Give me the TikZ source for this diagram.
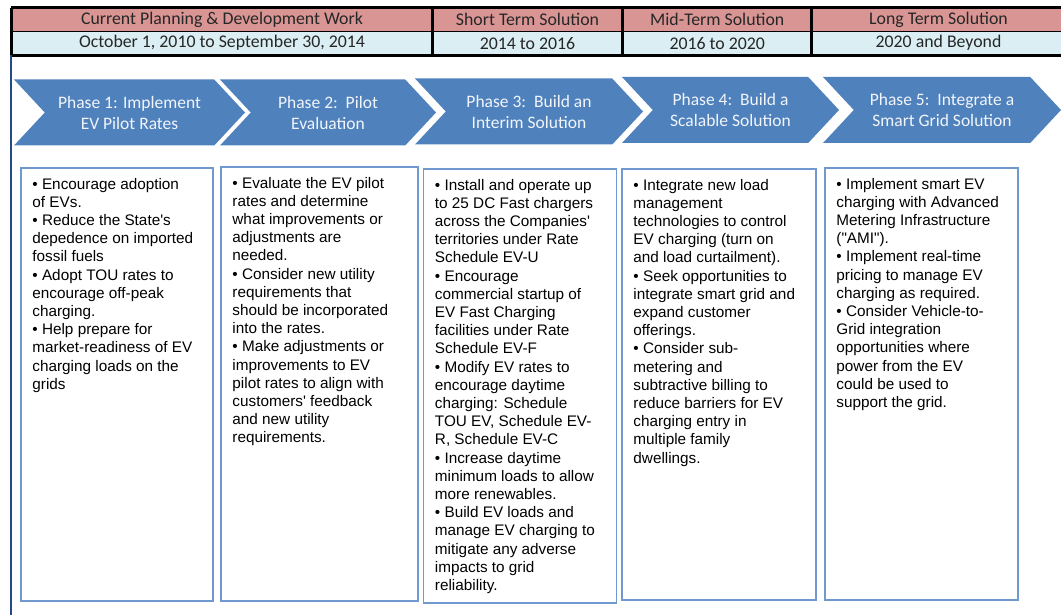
\documentclass[tikz,border=0pt]{standalone}
\usepackage{fontspec}
\setmainfont{Liberation Sans}
\newfontfamily\calibri{Carlito}
\usetikzlibrary{
  shapes.symbols,
  positioning
}
\definecolor{hdrred}{HTML}{D99594}
\definecolor{datecyan}{HTML}{DAEEF3}
\definecolor{chevblue}{HTML}{4F81BD}
\definecolor{boxblue}{HTML}{7099D0}
\definecolor{barblue}{HTML}{244A85}

\begin{document}
\begin{tikzpicture}[x=1pt,y=-1pt,
      hdr/.style={
         rectangle,
         fill=hdrred,
         inner sep=0pt,
         minimum height=23.5pt,
         text=black!85,
         font=\calibri\fontsize{17.8}{20}\selectfont
      },
      datecell/.style={
         hdr,
         fill=datecyan
      },
      phase/.style={
         signal,
         signal from=west,
         signal to=east,
         signal pointer angle=94,
         fill=chevblue,
         inner sep=0pt,
         minimum height=66pt,
         align=center,
         text=white!92!chevblue,
         font=\calibri\fontsize{17.5}{21}\selectfont
      },
      box/.style={
         rectangle,
         draw=boxblue,
         line width=1.5pt,
         inner sep=0pt
      },
      bullets/.style={
         align=left,
         inner sep=0pt,
         anchor=north west,
         font=\fontsize{15.3}{18.2}\selectfont
      },
      tableline/.style={draw=black,line width=3pt},
      rowline/.style={draw=black,line width=1.5pt},
      leftbar/.style={draw=barblue,line width=2.5pt}
    ]
    \useasboundingbox (0,0) rectangle (1061,615);
    \clip (0,0) rectangle (1061,615);
    % time table
    \node (h1) [hdr, minimum width=421pt] at (222,19.75) {Current Planning \& Development Work};
    \node (h2) [hdr, minimum width=190pt] at (527.5,19.75) {Short Term Solution};
    \node (h3) [hdr, minimum width=189.5pt] at (717.25,19.75) {Mid-Term Solution};
    \node (h4) [hdr, minimum width=253pt] at (938.5,19.75) {Long Term Solution};
    \node (d1) [datecell, minimum width=421pt] at (222,43.25) {October 1, 2010 to September 30, 2014};
    \node (d2) [datecell, minimum width=190pt] at (527.5,43.25) {2014 to 2016};
    \node (d3) [datecell, minimum width=189.5pt] at (717.25,43.25) {2016 to 2020};
    \node (d4) [datecell, minimum width=253pt] at (938.5,43.25) {2020 and Beyond};
    \draw[rowline] (h1.south west) -- (h4.south east);
    \draw[tableline] (h1.north west) -- (h4.north east);
    \draw[tableline] (d1.south west) -- (d4.south east);
    \draw[tableline] (h1.north west) -- (d1.south west);
    \draw[tableline] (h2.north west) -- (d2.south west);
    \draw[tableline] (h3.north west) -- (d3.south west);
    \draw[tableline] (h4.north west) -- (d4.south west);
    \coordinate (barend) at (11,615);
    \draw[leftbar] (d1.south west) ++(-0.5,0) |- (barend);
    % phases
    \node (p1) [phase, minimum width=231pt] at (129.5,112.5) {Phase 1: Implement\\EV Pilot Rates};
    \node (p2) [phase, minimum width=216pt] at (328,112.5) {Phase 2:\ \ Pilot\\Evaluation};
    \node (p3) [phase, minimum width=228pt] at (529,111.5) {Phase 3:\ \ Build an\\Interim Solution};
    \node (p4) [phase, minimum width=217pt] at (730.5,110) {Phase 4:\ \ Build a\\Scalable Solution};
    \node (p5) [phase, minimum width=238pt] at (942,110) {Phase 5:\ \ Integrate a\\Smart Grid Solution};
    % activity boxes
    \node (b1) [box, minimum width=192pt, minimum height=433pt] at (117,384.5) {};
    \node (b2) [box, minimum width=197pt, minimum height=434pt] at (319.5,384) {};
    \node (b3) [box, minimum width=193pt, minimum height=434pt] at (520,386) {};
    \node (b4) [box, minimum width=194pt, minimum height=431pt] at (719,384.5) {};
    \node (b5) [box, minimum width=193pt, minimum height=432pt] at (921.5,384) {};
    \node (t1) [bullets] at ([shift={(12,10.5)}]b1.north west) {%
• Encourage adoption\\
of EVs.\\
• Reduce the State\textquotesingle s\\
depedence on imported\\
fossil fuels\\
• Adopt TOU rates to\\
encourage off-peak\\
charging.\\
• Help prepare for\\
market-readiness of EV\\
charging loads on the\\
grids};
    \node (t2) [bullets] at ([shift={(12,10.5)}]b2.north west) {%
• Evaluate the EV pilot\\
rates and determine\\
what improvements or\\
adjustments are\\
needed.\\
• Consider new utility\\
requirements that\\
should be incorporated\\
into the rates.\\
• Make adjustments or\\
improvements to EV\\
pilot rates to align with\\
customers\textquotesingle\ feedback\\
and new utility\\
requirements.};
    \node (t3) [bullets] at ([shift={(12,10.5)}]b3.north west) {%
• Install and operate up\\
to 25 DC Fast chargers\\
across the Companies\textquotesingle\\
territories under Rate\\
Schedule EV-U\\
• Encourage\\
commercial startup of\\
EV Fast Charging\\
facilities under Rate\\
Schedule EV-F\\
• Modify EV rates to\\
encourage daytime\\
charging: Schedule\\
TOU EV, Schedule EV-\\
R, Schedule EV-C\\
• Increase daytime\\
minimum loads to allow\\
more renewables.\\
• Build EV loads and\\
manage EV charging to\\
mitigate any adverse\\
impacts to grid\\
reliability.};
    \node (t4) [bullets] at ([shift={(12,10.5)}]b4.north west) {%
• Integrate new load\\
management\\
technologies to control\\
EV charging (turn on\\
and load curtailment).\\
• Seek opportunities to\\
integrate smart grid and\\
expand customer\\
offerings.\\
• Consider sub-\\
metering and\\
subtractive billing to\\
reduce barriers for EV\\
charging entry in\\
multiple family\\
dwellings.};
    \node (t5) [bullets] at ([shift={(12,10.5)}]b5.north west) {%
• Implement smart EV\\
charging with Advanced\\
Metering Infrastructure\\
(\textquotedbl AMI\textquotedbl).\\
• Implement real-time\\
pricing to manage EV\\
charging as required.\\
• Consider Vehicle-to-\\
Grid integration\\
opportunities where\\
power from the EV\\
could be used to\\
support the grid.};
\end{tikzpicture}
\end{document}
